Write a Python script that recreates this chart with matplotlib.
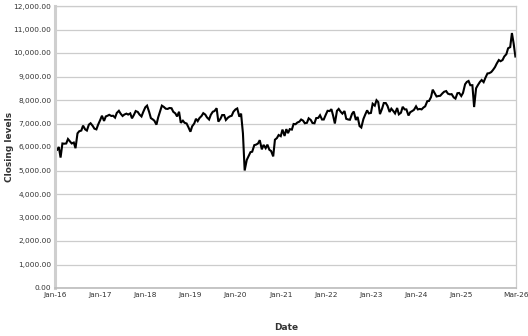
import matplotlib
matplotlib.use("Agg")
import matplotlib.pyplot as plt
from matplotlib.ticker import FuncFormatter
import numpy as np
import pandas as pd

# closing levels at the 1st and 15th of each month
close_2016 = [6100, 5850, 6000, 5550, 6150, 6140, 6150, 6340, 6240, 6150, 6190, 5950,
              6580, 6670, 6700, 6910, 6750, 6700, 6950, 7010, 6900, 6780, 6750, 6950]
close_2017 = [7150, 7330, 7110, 7300, 7330, 7370, 7320, 7330, 7250, 7450, 7540, 7420,
              7320, 7380, 7420, 7380, 7430, 7220, 7370, 7530, 7490, 7380, 7300, 7490]
close_2018 = [7690, 7760, 7490, 7230, 7180, 7120, 6950, 7260, 7520, 7760, 7700, 7630,
              7620, 7660, 7650, 7500, 7430, 7300, 7500, 7030, 7120, 7030, 7000, 6850]
close_2019 = [6650, 6880, 7000, 7200, 7100, 7230, 7320, 7440, 7380, 7260, 7170, 7370,
              7500, 7530, 7650, 7080, 7200, 7360, 7360, 7150, 7250, 7300, 7330, 7500]
close_2020 = [7600, 7640, 7290, 7420, 6580, 5000, 5450, 5600, 5780, 5800, 6080, 6100,
              6150, 6290, 5900, 6090, 5950, 6100, 5880, 5830, 5600, 6310, 6380, 6510]
close_2021 = [6460, 6740, 6470, 6760, 6590, 6760, 6740, 6980, 6970, 7040, 7080, 7170,
              7120, 7010, 7030, 7220, 7150, 7020, 7010, 7230, 7240, 7350, 7170, 7170]
close_2022 = [7380, 7540, 7530, 7610, 7330, 7000, 7540, 7620, 7500, 7420, 7530, 7200,
              7170, 7160, 7410, 7510, 7150, 7280, 6890, 6830, 7190, 7370, 7560, 7430]
close_2023 = [7450, 7840, 7760, 7990, 7910, 7400, 7630, 7870, 7870, 7750, 7490, 7630,
              7530, 7430, 7660, 7390, 7460, 7710, 7600, 7600, 7340, 7480, 7530, 7580]
close_2024 = [7730, 7600, 7620, 7600, 7680, 7730, 7950, 7960, 8120, 8440, 8280, 8150,
              8170, 8180, 8280, 8350, 8380, 8270, 8240, 8250, 8110, 8060, 8290, 8300]
close_2025 = [8170, 8300, 8670, 8770, 8810, 8630, 8630, 7700, 8500, 8630, 8770, 8850,
              8760, 8940, 9130, 9140, 9190, 9280, 9400, 9550, 9700, 9650, 9700, 9850]
close_2026 = [9950, 10200, 10250, 10850, 10400, 9850]

closing = np.array(close_2016 + close_2017 + close_2018 + close_2019 + close_2020
                   + close_2021 + close_2022 + close_2023 + close_2024 + close_2025
                   + close_2026, dtype=float)
dates = pd.date_range("2016-01-01", periods=len(closing), freq="SMS")

tick_dates = [pd.Timestamp(f"{y}-01-01") for y in range(2016, 2026)] + [pd.Timestamp("2026-03-20")]
tick_labels = [f"Jan-{y % 100:02d}" for y in range(2016, 2026)] + ["Mar-26"]

fig = plt.figure(figsize=(5.28, 3.36), dpi=100)
ax = fig.add_axes([55 / 528, 48 / 336, 461 / 528, 282 / 336])

ax.plot(dates, closing, color="black", lw=1.5, solid_joinstyle="miter")

ax.set_ylim(0, 12000)
ax.set_yticks(np.arange(0, 12001, 1000))
ax.yaxis.set_major_formatter(FuncFormatter(lambda v, p: f"{v:,.2f}"))
ax.set_xlim(pd.Timestamp("2016-01-01"), pd.Timestamp("2026-03-20"))
ax.set_xticks(tick_dates)
ax.set_xticklabels(tick_labels)

ax.grid(axis="y", color="#cccccc", lw=0.9)
ax.set_axisbelow(True)
ax.tick_params(axis="both", length=0, labelsize=5.3, labelcolor="#333333")
ax.tick_params(axis="y", pad=2.5)
ax.tick_params(axis="x", pad=3)

for side in ("top", "right"):
    ax.spines[side].set_color("#cccccc")
    ax.spines[side].set_linewidth(0.9)
ax.spines["left"].set_color("#cfcfcf")
ax.spines["left"].set_linewidth(2.2)
ax.spines["bottom"].set_color("#bbbbbb")
ax.spines["bottom"].set_linewidth(1.2)

fig.text(286 / 528, 1 - 327 / 336, "Date", ha="center", va="center",
         fontsize=6.5, fontweight="bold", color="#333333")
fig.text(10 / 528, 1 - 147 / 336, "Closing levels", ha="center", va="center",
         rotation=90, fontsize=6.5, fontweight="bold", color="#333333")

fig.savefig("out.png", dpi=100)
